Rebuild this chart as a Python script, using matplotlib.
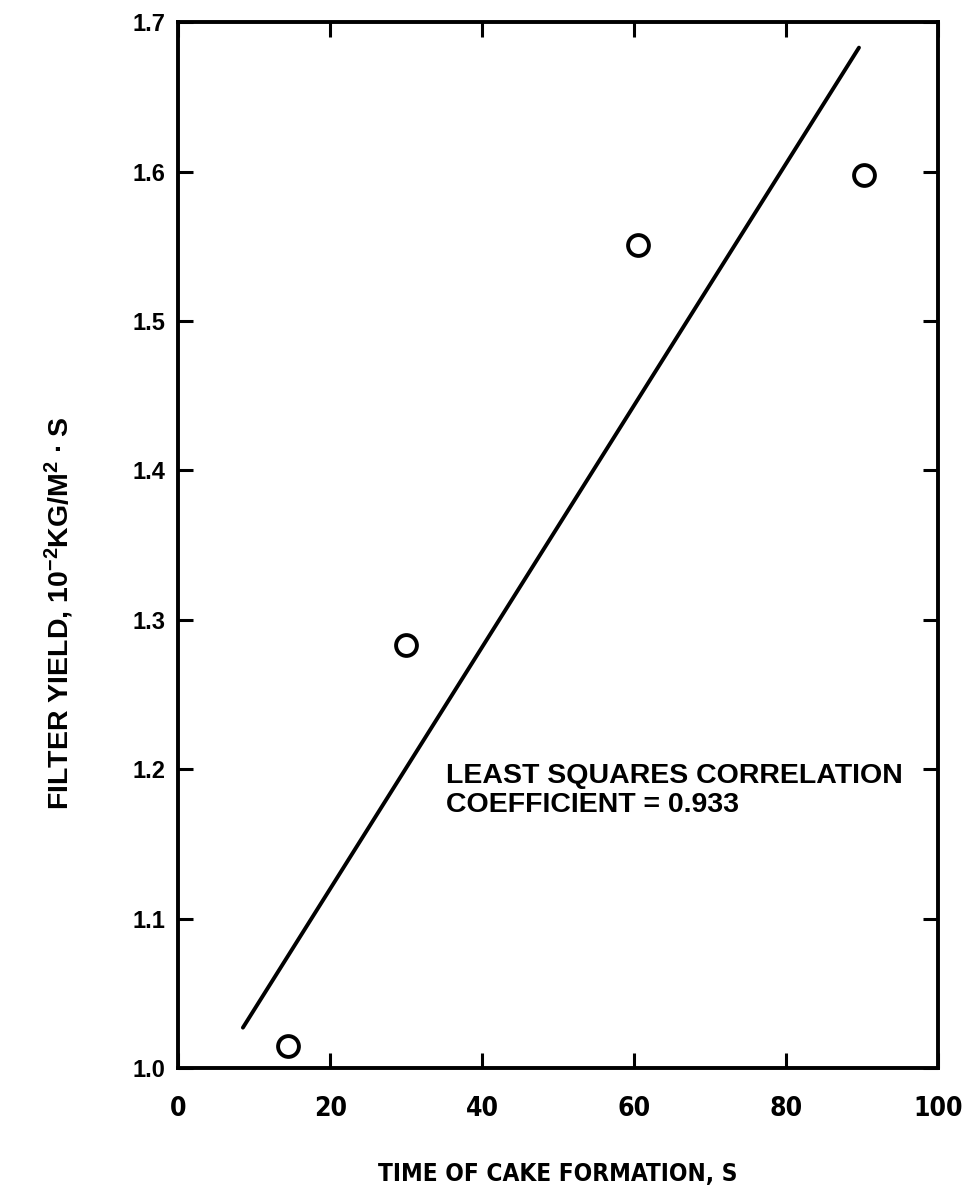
import matplotlib
matplotlib.use('Agg')
import matplotlib.pyplot as plt

# measured points (time of cake formation, filter yield)
time_s = [14.5, 30, 60.5, 90.3]
filter_yield = [1.015, 1.283, 1.551, 1.598]

# least squares line as drawn
fit_x = [8.5, 89.6]
fit_y = [1.027, 1.683]

x_ticks = [0, 20, 40, 60, 80, 100]
y_ticks = [1.0, 1.1, 1.2, 1.3, 1.4, 1.5, 1.6, 1.7]

plt.rcParams['font.family'] = ['Liberation Sans', 'DejaVu Sans']
plt.rcParams['font.weight'] = 'bold'
plt.rcParams['mathtext.fontset'] = 'custom'
plt.rcParams['mathtext.rm'] = 'Liberation Sans:bold'
plt.rcParams['mathtext.bf'] = 'Liberation Sans:bold'
plt.rcParams['mathtext.default'] = 'bf'

narrow = dict(family=['DejaVu Sans'], stretch='condensed', weight='bold')

fig = plt.figure(figsize=(9.64, 12.02), dpi=100)
ax = fig.add_axes([0.185, 0.1115, 0.788, 0.870])

ax.plot(fit_x, fit_y, color='black', lw=2.8, solid_capstyle='round')
ax.plot(time_s, filter_yield, 'o', ms=15, mfc='white', mec='black', mew=2.8)

ax.set_xlim(0, 100)
ax.set_ylim(1.0, 1.7)
ax.set_xticks(x_ticks)
ax.set_yticks(y_ticks)
ax.set_yticklabels(['%.1f' % v for v in y_ticks])
ax.tick_params(direction='in', length=11, width=2.2, top=True, right=True,
               labelsize=17)
ax.tick_params(axis='y', pad=9)
ax.tick_params(axis='x', pad=20)
for lab in ax.get_xticklabels():
    lab.set(**narrow)
    lab.set_fontsize(19)
for sp in ax.spines.values():
    sp.set_linewidth(2.8)

ax.set_xlabel('TIME OF CAKE FORMATION, S', fontsize=17.5, **narrow)
ax.xaxis.set_label_coords(0.5, -0.09)
ax.set_ylabel(r'FILTER YIELD, 10$^{-2}$KG/M$^{2}$ $\bullet$ S', fontsize=20.5,
              fontweight='bold')
ax.yaxis.set_label_coords(-0.135, 0.435)

ax.text(35.2, 1.186, 'LEAST SQUARES CORRELATION\nCOEFFICIENT = 0.933',
        fontsize=20.5, va='center', ha='left', linespacing=1.15)

fig.savefig('out.png', dpi=100)
